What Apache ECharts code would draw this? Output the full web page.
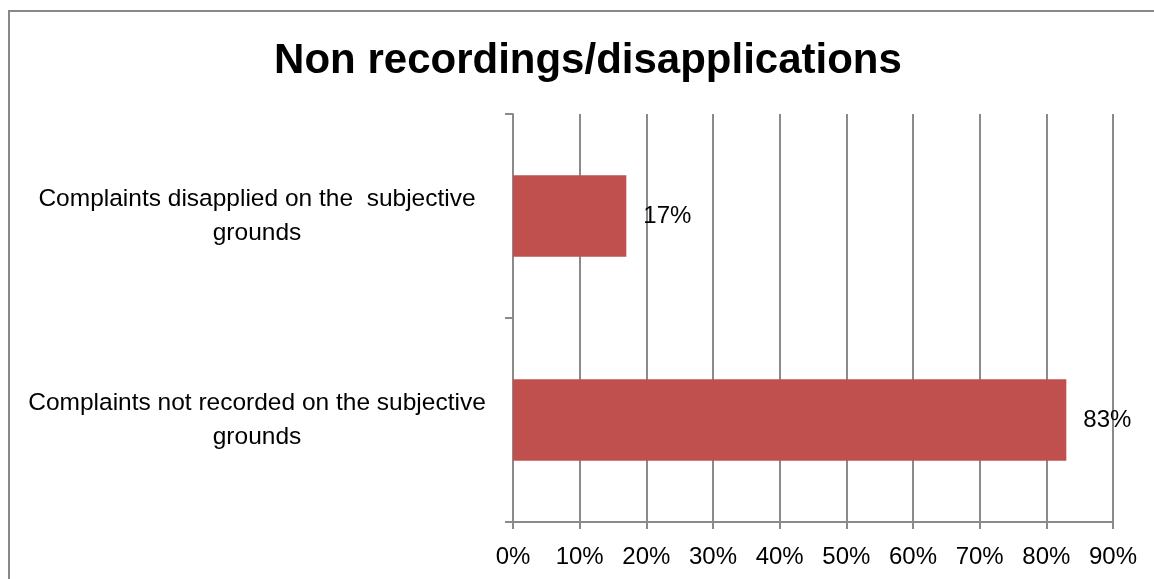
<!DOCTYPE html>
<html>
<head>
<meta charset="utf-8">
<script src="https://cdn.jsdelivr.net/npm/echarts@6/dist/echarts.min.js"></script>
<style>
html,body{margin:0;padding:0;background:#fff;}
#chart{width:1154px;height:579px;}
</style>
</head>
<body>
<div id="chart"></div>
<script>
var titleText = 'Non recordings/disapplications';
var categories = [
  'Complaints not recorded on the subjective\ngrounds',
  'Complaints disapplied on the  subjective\ngrounds'
];
var values = [83, 17];
var xMin = 0, xMax = 90, xStep = 10;

var chart = echarts.init(document.getElementById('chart'), null, {renderer: 'canvas'});
var FONT = '"Liberation Sans", Arial, sans-serif';
chart.setOption({
  animation: false,
  backgroundColor: '#ffffff',
  graphic: [
    {type: 'rect', shape: {x: 9, y: 11, width: 1200, height: 700},
     style: {fill: 'none', stroke: '#888888', lineWidth: 2}, silent: true},
    {type: 'text', x: 588, y: 61,
     style: {text: titleText, font: 'bold 42px ' + FONT, fill: '#000',
             textAlign: 'center', textVerticalAlign: 'middle'}}
  ],
  grid: {left: 513, right: 41, top: 114, bottom: 57, containLabel: false, outerBoundsMode: 'none'},
  xAxis: {
    type: 'value', min: xMin, max: xMax, interval: xStep,
    axisLine: {show: true, lineStyle: {color: '#8a8a8a', width: 2}},
    axisTick: {show: true, length: 7, lineStyle: {color: '#8a8a8a', width: 2}},
    splitLine: {show: true, lineStyle: {color: '#8a8a8a', width: 2}},
    axisLabel: {formatter: '{value}%', color: '#000', fontFamily: FONT, fontSize: 24, margin: 23}
  },
  yAxis: {
    type: 'category', data: categories,
    axisLine: {show: true, lineStyle: {color: '#8a8a8a', width: 2}},
    axisTick: {show: true, length: 8, lineStyle: {color: '#8a8a8a', width: 2}},
    axisLabel: {color: '#000', fontFamily: FONT, fontSize: 24.5, align: 'center',
                margin: 256, lineHeight: 34, padding: [3, 0, 0, 0]}
  },
  series: [{
    type: 'bar', data: values, barCategoryGap: '60%',
    itemStyle: {color: '#C0504D'},
    label: {show: true, position: 'right', distance: 17, formatter: '{c}%',
            color: '#000', fontFamily: FONT, fontSize: 24}
  }]
});
</script>
</body>
</html>
